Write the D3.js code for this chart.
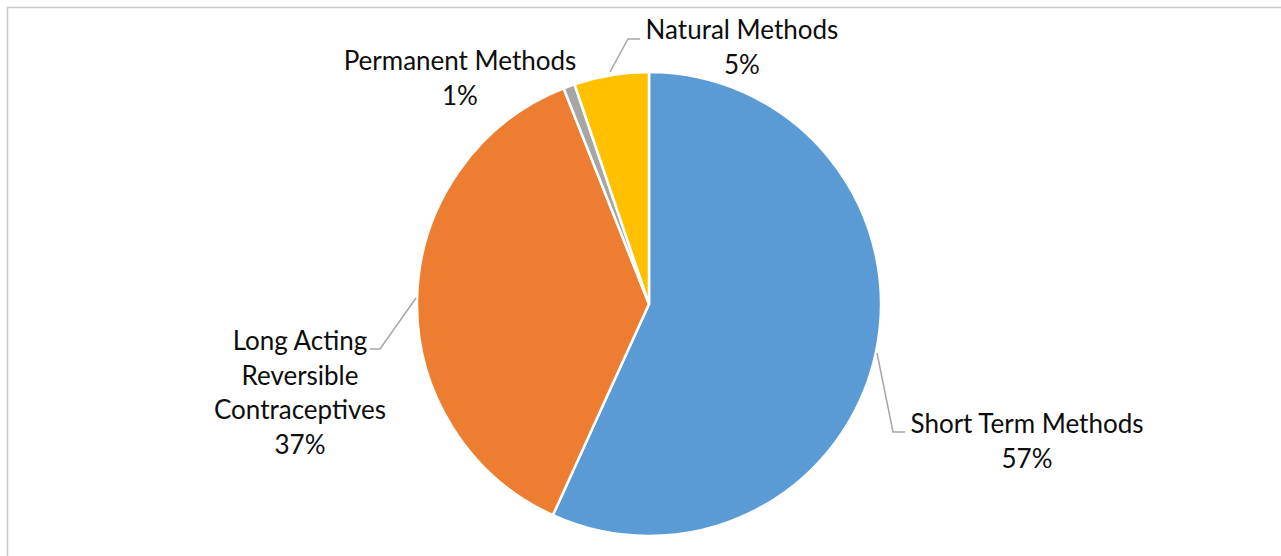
<!DOCTYPE html>
<html>
<head>
<meta charset="utf-8">
<script src="https://cdn.jsdelivr.net/npm/d3@7"></script>
<style>
  body { margin: 0; background: #fff; }
  text { font-family: Lato, "Open Sans", sans-serif; fill: #0d0d0d; }
</style>
</head>
<body>
<div id="chart"></div>
<script>
// slice data, clockwise from 12 o'clock
const categories = ['Short Term Methods', 'Long Acting Reversible Contraceptives', 'Permanent Methods', 'Natural Methods'];
const values = [56.8, 37.2, 0.8, 5.2];
const colors = ['#5B9BD5', '#ED7D31', '#A5A5A5', '#FFC000'];

// label layout: text lines, anchor point (centre x, first line y), leader polyline
const labelLines = [
    ['Short Term Methods'],
    ['Long Acting', 'Reversible', 'Contraceptives'],
    ['Permanent Methods'],
    ['Natural Methods']
];
const labelPos = [[1027, 424], [300, 341], [460, 61], [742, 30]];
const leaders = [
    [[877, 353], [893, 432], [905, 432]],
    [[416, 298], [380, 349], [370, 349]],
    null,
    [[610, 72], [628, 39], [640, 39]]
];

const width = 1281, height = 556;
const cx = 649, cy = 304, radius = 232;
const lineH = 34.5;

let svg = d3.select('#chart')
    .append('svg')
    .attr('width', width)
    .attr('height', height);

// chart frame
svg.append('rect')
    .attr('x', 7.5)
    .attr('y', 7.5)
    .attr('width', width)
    .attr('height', height)
    .attr('fill', 'none')
    .attr('stroke', '#c9c9c9')
    .attr('stroke-width', 1.5);

let pie = d3.pie().sort(null).value(d => d);
let arc = d3.arc().innerRadius(0).outerRadius(radius);
let arcs = pie(values);

svg.append('g')
    .attr('transform', `translate(${cx},${cy})`)
    .selectAll('path')
    .data(arcs)
    .join('path')
    .attr('d', arc)
    .attr('fill', (d, i) => colors[i])
    .attr('stroke', 'white')
    .attr('stroke-width', 2.5)
    .attr('stroke-linejoin', 'round');

svg.append('g')
    .selectAll('polyline')
    .data(leaders.filter(d => d))
    .join('polyline')
    .attr('points', d => d.map(p => p.join(',')).join(' '))
    .attr('fill', 'none')
    .attr('stroke', '#a6a6a6')
    .attr('stroke-width', 1.5);

let fmt = d3.format('.0%');
let labels = svg.append('g')
    .selectAll('text')
    .data(arcs)
    .join('text')
    .attr('text-anchor', 'middle')
    .attr('font-size', 26)
    .attr('x', (d, i) => labelPos[i][0])
    .attr('y', (d, i) => labelPos[i][1]);

labels.each(function(d, i) {
    let t = d3.select(this);
    let lines = labelLines[i].concat([fmt(d.value / d3.sum(values))]);
    lines.forEach((l, j) => {
        t.append('tspan')
            .attr('x', labelPos[i][0])
            .attr('dy', j == 0 ? '0.35em' : lineH)
            .text(l);
    });
});
</script>
</body>
</html>
